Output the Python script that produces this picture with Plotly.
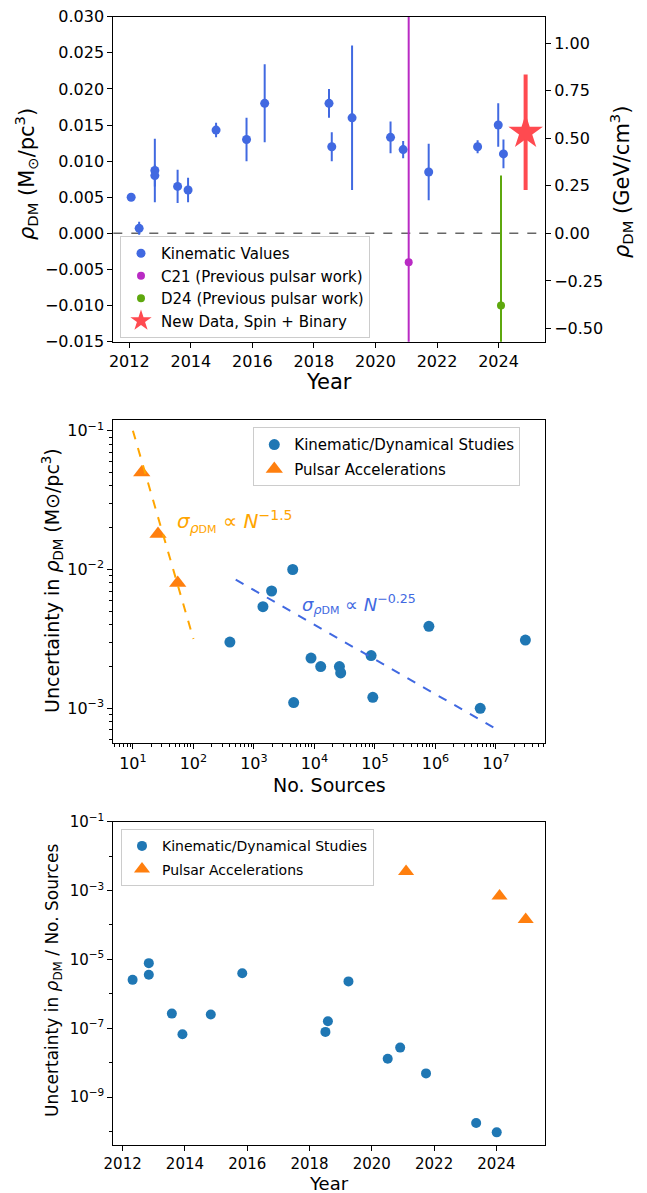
import plotly.graph_objects as go

W, H = 647, 1193
FONT = "DejaVu Sans"

# ---------------- Top panel: rho_DM vs year ----------------
kin_year = [2012.06, 2012.32, 2012.83, 2012.83, 2013.57, 2013.91, 2014.82, 2015.81, 2016.40,
            2018.49, 2018.58, 2019.24, 2020.49, 2020.90, 2021.73, 2023.32, 2023.99, 2024.16]
kin_rho = [0.0050, 0.0007, 0.0087, 0.0080, 0.0065, 0.0060, 0.0143, 0.0130, 0.0180,
           0.0180, 0.0120, 0.0160, 0.0133, 0.0116, 0.0085, 0.0120, 0.0150, 0.0110]
kin_err = [0.0003, 0.0009, 0.0044, 0.0015, 0.0023, 0.0017, 0.0010, 0.0030, 0.0054,
           0.0020, 0.0020, 0.0100, 0.0022, 0.0012, 0.0039, 0.0009, 0.0030, 0.0020]

c21_year, c21_rho, c21_err = [2021.08], [-0.004], [0.10]
d24_year, d24_rho, d24_err = [2024.08], [-0.010], [0.018]
new_year, new_rho, new_err = [2024.88], [0.014], [0.008]

GEV_PER_MSUN_PC3 = 37.97

top_y_ticks = [-0.015, -0.010, -0.005, 0.000, 0.005, 0.010, 0.015, 0.020, 0.025, 0.030]
top_y_labels = ["\u22120.015", "\u22120.010", "\u22120.005", "0.000", "0.005", "0.010",
                "0.015", "0.020", "0.025", "0.030"]
top_y2_ticks = [-0.50, -0.25, 0.00, 0.25, 0.50, 0.75, 1.00]
top_y2_labels = ["\u22120.50", "\u22120.25", "0.00", "0.25", "0.50", "0.75", "1.00"]
year_ticks = [2012, 2014, 2016, 2018, 2020, 2022, 2024]

# ---------------- Middle panel: uncertainty vs number of sources ----------------
kin_N = [4380, 1960, 1410, 401, 7.8e5, 3.07e7, 8.65e4, 8790, 12700, 25900, 27200, 4540, 9.23e4, 5.5e6]
kin_sigma = [0.0100, 0.0070, 0.0054, 0.0030, 0.0039, 0.0031, 0.0024, 0.0023, 0.0020, 0.0020,
             0.0018, 0.0011, 0.0012, 0.0010]
psr_N = [14, 26, 55]
psr_sigma = [0.050, 0.018, 0.008]

psr_fit_N = [10, 100]
psr_fit_amp, psr_fit_exp = 10 ** 0.5, -1.5
kin_fit_N = [500, 1e7]
kin_fit_amp, kin_fit_exp = 0.04, -0.25

mid_x_ticks = [1e1, 1e2, 1e3, 1e4, 1e5, 1e6, 1e7]
mid_x_labels = ["10<sup>1</sup>", "10<sup>2</sup>", "10<sup>3</sup>", "10<sup>4</sup>",
                "10<sup>5</sup>", "10<sup>6</sup>", "10<sup>7</sup>"]
mid_y_ticks = [1e-3, 1e-2, 1e-1]
mid_y_labels = ["10<sup>\u22123</sup>", "10<sup>\u22122</sup>", "10<sup>\u22121</sup>"]

# ---------------- Bottom panel: uncertainty / N vs year ----------------
bot_year = [2012.32, 2012.84, 2012.84, 2013.58, 2013.92, 2014.83, 2015.84, 2018.51, 2018.59,
            2019.25, 2020.51, 2020.91, 2021.74, 2023.35, 2024.01]
bot_ratio = [2.55e-6, 7.8e-6, 3.6e-6, 2.67e-7, 6.7e-8, 2.5e-7, 3.97e-6, 7.85e-8, 1.6e-7,
             2.3e-6, 1.3e-8, 2.75e-8, 4.9e-9, 1.78e-10, 9.5e-11]
psr_year = [2021.10, 2024.10, 2024.94]

bot_y_ticks = [1e-9, 1e-7, 1e-5, 1e-3, 1e-1]
bot_y_labels = ["10<sup>\u22129</sup>", "10<sup>\u22127</sup>", "10<sup>\u22125</sup>",
                "10<sup>\u22123</sup>", "10<sup>\u22121</sup>"]

ROYAL = "#4169E1"
TAB_BLUE = "#1f77b4"
TAB_ORANGE = "#ff7f0e"
ORANGE = "#FFA500"
C21_COL = "#b92bc4"
D24_COL = "#5ea80e"
NEW_COL = "#ff4a50"


def px_x(p):
    return p / W


def px_y(p):
    return 1 - p / H


fig = go.Figure()

# ---- top traces ----
fig.add_trace(go.Scatter(
    x=kin_year, y=kin_rho, mode="markers", name="Kinematic Values",
    marker=dict(color=ROYAL, size=9),
    error_y=dict(type="data", array=kin_err, color=ROYAL, thickness=2, width=0),
    xaxis="x", yaxis="y", legend="legend", legendgroup="a"))
fig.add_trace(go.Scatter(
    x=c21_year, y=c21_rho, mode="markers", name="C21 (Previous pulsar work)",
    marker=dict(color=C21_COL, size=8),
    error_y=dict(type="data", array=c21_err, color=C21_COL, thickness=2, width=0),
    xaxis="x", yaxis="y", legend="legend", legendgroup="b"))
fig.add_trace(go.Scatter(
    x=d24_year, y=d24_rho, mode="markers", name="D24 (Previous pulsar work)",
    marker=dict(color=D24_COL, size=8),
    error_y=dict(type="data", array=d24_err, color=D24_COL, thickness=2, width=0),
    xaxis="x", yaxis="y", legend="legend", legendgroup="c"))
fig.add_trace(go.Scatter(
    x=new_year, y=new_rho, mode="markers", name="New Data, Spin + Binary",
    marker=dict(color=NEW_COL, size=26, symbol="star", line=dict(width=0)),
    error_y=dict(type="data", array=new_err, color=NEW_COL, thickness=4, width=0),
    xaxis="x", yaxis="y", legend="legend", legendgroup="d"))
# invisible trace to activate the right-hand axis
fig.add_trace(go.Scatter(
    x=[new_year[0]], y=[new_rho[0] * GEV_PER_MSUN_PC3], mode="markers",
    marker=dict(opacity=0), showlegend=False, hoverinfo="skip", xaxis="x", yaxis="y2"))

# ---- middle traces ----
fig.add_trace(go.Scatter(
    x=kin_N, y=kin_sigma, mode="markers", name="Kinematic/Dynamical Studies",
    marker=dict(color=TAB_BLUE, size=11), xaxis="x3", yaxis="y3",
    legend="legend2", legendgroup="e"))
fig.add_trace(go.Scatter(
    x=psr_N, y=psr_sigma, mode="markers", name="Pulsar Accelerations",
    marker=dict(color=TAB_ORANGE, size=15, symbol="triangle-up"), xaxis="x3", yaxis="y3",
    legend="legend2", legendgroup="f"))
fig.add_trace(go.Scatter(
    x=psr_fit_N, y=[psr_fit_amp * n ** psr_fit_exp for n in psr_fit_N], mode="lines",
    line=dict(color=ORANGE, dash="dash", width=2), showlegend=False, xaxis="x3", yaxis="y3"))
fig.add_trace(go.Scatter(
    x=kin_fit_N, y=[kin_fit_amp * n ** kin_fit_exp for n in kin_fit_N], mode="lines",
    line=dict(color=ROYAL, dash="dash", width=2), showlegend=False, xaxis="x3", yaxis="y3"))

# ---- bottom traces ----
fig.add_trace(go.Scatter(
    x=bot_year, y=bot_ratio, mode="markers", name="Kinematic/Dynamical Studies",
    marker=dict(color=TAB_BLUE, size=10), xaxis="x4", yaxis="y4",
    legend="legend3", legendgroup="g"))
fig.add_trace(go.Scatter(
    x=psr_year, y=[s / n for s, n in zip(psr_sigma, psr_N)], mode="markers",
    name="Pulsar Accelerations",
    marker=dict(color=TAB_ORANGE, size=14, symbol="triangle-up"), xaxis="x4", yaxis="y4",
    legend="legend3", legendgroup="h"))

axis_common = dict(showline=True, linecolor="black", linewidth=1, mirror=True,
                   ticks="outside", ticklen=5, tickwidth=1, tickcolor="black",
                   showgrid=False, zeroline=False, automargin=False)

def log_minor(lo, hi):
    vals = []
    for k in range(lo, hi):
        for m in range(2, 10):
            vals.append(m * 10.0 ** k)
    return vals

xdom = [px_x(113.3), px_x(545)]
fig.update_layout(
    width=W, height=H,
    margin=dict(l=0, r=0, t=0, b=0),
    paper_bgcolor="white", plot_bgcolor="white",
    font=dict(family=FONT, color="black", size=15),
    xaxis=dict(domain=xdom, range=[2011.48, 2025.51], anchor="y",
               tickvals=year_ticks, tickfont=dict(size=16), **axis_common),
    yaxis=dict(domain=[px_y(341.7), px_y(16.7)], range=[-0.015, 0.030], anchor="x",
               tickvals=top_y_ticks, ticktext=top_y_labels, tickfont=dict(size=16),
               **axis_common),
    yaxis2=dict(overlaying="y", side="right", anchor="x",
                range=[-0.015 * GEV_PER_MSUN_PC3, 0.030 * GEV_PER_MSUN_PC3],
                tickvals=top_y2_ticks, ticktext=top_y2_labels, tickfont=dict(size=16),
                showline=True, linecolor="black", linewidth=1, ticks="outside", ticklen=5,
                tickwidth=1, tickcolor="black", showgrid=False, zeroline=False,
                automargin=False),
    xaxis3=dict(domain=xdom, type="log", range=[0.676, 7.811], anchor="y3",
                tickvals=mid_x_ticks, ticktext=mid_x_labels, tickfont=dict(size=16),
                minor=dict(tickmode="array", tickvals=log_minor(0, 8), ticks="outside",
                           ticklen=3, tickwidth=1, tickcolor="black"),
                **axis_common),
    yaxis3=dict(domain=[px_y(743.3), px_y(420)], type="log", range=[-3.252, -0.923],
                anchor="x3", tickvals=mid_y_ticks, ticktext=mid_y_labels,
                tickfont=dict(size=16),
                minor=dict(tickmode="array", tickvals=log_minor(-4, 0), ticks="outside",
                           ticklen=3, tickwidth=1, tickcolor="black"),
                **axis_common),
    xaxis4=dict(domain=xdom, range=[2011.70, 2025.56], anchor="y4",
                tickvals=year_ticks, tickfont=dict(size=15), **axis_common),
    yaxis4=dict(domain=[px_y(1145), px_y(821.7)], type="log", range=[-10.39, -1.0],
                anchor="x4", tickvals=bot_y_ticks, ticktext=bot_y_labels,
                tickfont=dict(size=15),
                minor=dict(tickmode="array", tickvals=[1e-10, 1e-8, 1e-6, 1e-4, 1e-2],
                           ticks="outside", ticklen=3, tickwidth=1, tickcolor="black"),
                **axis_common),
    legend=dict(x=px_x(120), y=px_y(236), xanchor="left", yanchor="top",
                bgcolor="rgba(255,255,255,0.8)", bordercolor="#cccccc", borderwidth=1,
                font=dict(size=15, family=FONT), tracegroupgap=0),
    legend2=dict(x=px_x(253.3), y=px_y(427.3), xanchor="left", yanchor="top",
                 bgcolor="rgba(255,255,255,0.8)", bordercolor="#cccccc", borderwidth=1,
                 font=dict(size=15, family=FONT), tracegroupgap=2),
    legend3=dict(x=px_x(121), y=px_y(829.3), xanchor="left", yanchor="top",
                 bgcolor="rgba(255,255,255,0.8)", bordercolor="#cccccc", borderwidth=1,
                 font=dict(size=14, family=FONT), tracegroupgap=2),
    showlegend=True,
)

# zero line on top panel
fig.add_shape(type="line", xref="x domain", x0=0, x1=1, yref="y", y0=0, y1=0,
              line=dict(color="#666666", width=1.5, dash="dash"), layer="below")

# axis titles (as annotations for exact placement)
def title(text, x, y, size, angle=0, color="black"):
    fig.add_annotation(text=text, x=px_x(x), y=px_y(y), xref="paper", yref="paper",
                       showarrow=False, textangle=angle, xanchor="center", yanchor="middle",
                       font=dict(size=size, family=FONT, color=color))

title("<i>\u03c1</i><sub>DM</sub> (M<sub>\u2299</sub>/pc<sup>3</sup>)", 26, 174, 21, -90)
title("<i>\u03c1</i><sub>DM</sub> (GeV/cm<sup>3</sup>)", 621, 182, 21, -90)
title("Year", 329, 382, 21)
title("Uncertainty in <i>\u03c1</i><sub>DM</sub> (M\u2299/pc<sup>3</sup>)", 52, 581, 19, -90)
title("No. Sources", 329, 785, 19)
title("Uncertainty in <i>\u03c1</i><sub>DM</sub> / No. Sources", 53, 981, 17, -90)
title("Year", 329, 1183, 18)

# power-law labels
fig.add_annotation(text="<i>\u03c3</i><sub><i>\u03c1</i><span style='font-size:11px'>DM</span></sub> \u221d <i>N</i><sup>\u22121.5</sup>",
                   x=px_x(175), y=px_y(521), xref="paper", yref="paper", showarrow=False,
                   xanchor="left", yanchor="middle", font=dict(size=20, family=FONT, color=ORANGE))
fig.add_annotation(text="<i>\u03c3</i><sub><i>\u03c1</i><span style='font-size:11px'>DM</span></sub> \u221d <i>N</i><sup>\u22120.25</sup>",
                   x=px_x(300), y=px_y(604), xref="paper", yref="paper", showarrow=False,
                   xanchor="left", yanchor="middle", font=dict(size=18, family=FONT, color=ROYAL))

fig.write_html("out.html")
